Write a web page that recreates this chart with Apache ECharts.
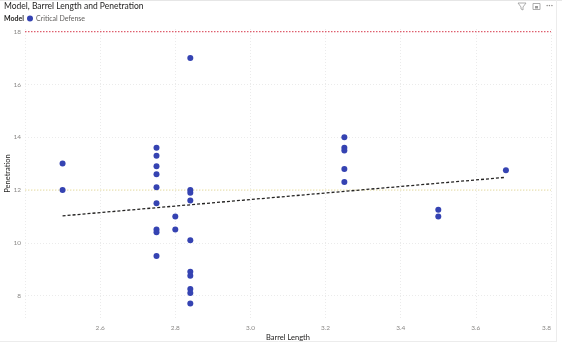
<!DOCTYPE html>
<html>
<head>
<meta charset="utf-8">
<script src="https://cdn.jsdelivr.net/npm/echarts@6/dist/echarts.min.js"></script>
<style>
html,body{margin:0;padding:0;background:#fff;}
#chart{width:562px;height:346px;}
</style>
</head>
<body>
<div id="chart"></div>
<script>
const seriesName = 'Critical Defense';
const barrelLength = [2.5, 2.5,
  2.75, 2.75, 2.75, 2.75, 2.75, 2.75, 2.75, 2.75, 2.75,
  2.8, 2.8,
  2.84, 2.84, 2.84, 2.84, 2.84, 2.84, 2.84, 2.84, 2.84, 2.84,
  3.25, 3.25, 3.25, 3.25, 3.25,
  3.5, 3.5,
  3.68];
const penetration = [13.0, 12.0,
  13.6, 13.3, 12.9, 12.6, 12.1, 11.5, 10.5, 10.4, 9.5,
  11.0, 10.5,
  17.0, 12.0, 11.9, 11.6, 10.1, 8.9, 8.75, 8.25, 8.1, 7.7,
  14.0, 13.6, 13.5, 12.8, 12.3,
  11.25, 11.0,
  12.75];
const trendX = [2.5, 3.68];
const trendY = [11.02, 12.48];
const avgLine = 12.0;
const maxLine = 18.0;
const xRange = [2.4, 3.8];
const xTicks = [2.6, 2.8, 3.0, 3.2, 3.4, 3.6, 3.8];
const yTicks = [8, 10, 12, 14, 16, 18];

const FONT = 'Lato';
const tickLabel = {show: true, position: 'start', formatter: p => String(p.value), fontSize: 6.5, color: '#8a8886', distance: 4, fontFamily: FONT};
const chart = echarts.init(document.getElementById('chart'));
chart.setOption({
  animation: false,
  textStyle: {fontFamily: FONT},
  title: {
    text: 'Model, Barrel Length and Penetration',
    left: 4, top: 1.5, padding: 0,
    textStyle: {fontSize: 8.5, fontWeight: 'normal', color: '#252423', fontFamily: FONT}
  },
  legend: {
    left: 27, top: 15, padding: 0, itemWidth: 6, itemHeight: 6, itemGap: 4,
    icon: 'circle',
    data: [seriesName],
    textStyle: {fontSize: 7, color: '#605E5C', fontFamily: FONT, padding: [0, 0, 0, -2]}
  },
  grid: {left: 25, right: 11, top: 29, bottom: 28, containLabel: false, outerBoundsMode: 'none'},
  xAxis: {
    type: 'value', min: xRange[0], max: xRange[1], interval: 0.2,
    name: 'Barrel Length', nameLocation: 'middle', nameGap: 15, nameMoveOverlap: false,
    nameTextStyle: {fontSize: 7.5, color: '#252423', fontFamily: FONT, verticalAlign: 'top', lineHeight: 9},
    axisLine: {show: false}, axisTick: {show: false},
    axisLabel: {fontSize: 6.5, color: '#8a8886', margin: 6, alignMaxLabel: 'right',
      formatter: v => xTicks.some(t => Math.abs(t - v) < 1e-6) ? v.toFixed(1) : ''},
    splitLine: {show: true, lineStyle: {color: '#ebebeb', type: [1, 2], width: 1}}
  },
  yAxis: {
    type: 'value', min: 7.15, max: 18.1,
    name: 'Penetration', nameLocation: 'middle', nameGap: 13, nameRotate: 90, nameMoveOverlap: false,
    nameTextStyle: {fontSize: 7.5, color: '#252423', fontFamily: FONT},
    axisLine: {show: false}, axisTick: {show: false},
    axisLabel: {show: false},
    splitLine: {show: false}
  },
  series: [
    {
      name: 'grid-y', type: 'line', silent: true, data: [], z: 1,
      markLine: {
        symbol: 'none', silent: true, z: 1,
        label: tickLabel,
        lineStyle: {color: '#ebebeb', type: [1, 2], width: 1},
        data: yTicks.map(t => ({yAxis: t}))
      }
    },
    {
      name: 'max-line', type: 'line', silent: true, z: 2, symbol: 'none',
      color: '#DE5F6E',
      lineStyle: {color: '#DE5F6E', type: [1.5, 1.5], width: 1.2},
      data: xRange.map(x => [x, maxLine])
    },
    {
      name: 'avg-line', type: 'line', silent: true, z: 2, symbol: 'none',
      color: '#EEE3A6',
      lineStyle: {color: '#EEE3A6', type: [1.5, 1.5], width: 1.2},
      data: xRange.map(x => [x, avgLine])
    },
    {
      name: seriesName, type: 'scatter', symbolSize: 6, z: 10,
      itemStyle: {color: '#3543B2', opacity: 1},
      data: barrelLength.map((x, i) => [x, penetration[i]])
    },
    {
      name: 'trend', type: 'line', symbol: 'none', silent: true, z: 5,
      lineStyle: {color: '#252423', type: [3, 2], width: 1.3},
      data: trendX.map((x, i) => [x, trendY[i]])
    }
  ],
  graphic: [
    {type: 'line', shape: {x1: 0, y1: 0.5, x2: 562, y2: 0.5}, style: {stroke: '#e6e6e6', lineWidth: 1}},
    {type: 'line', shape: {x1: 556.5, y1: 0, x2: 556.5, y2: 341}, style: {stroke: '#ececec', lineWidth: 1}},
    {type: 'line', shape: {x1: 0, y1: 341.5, x2: 557, y2: 341.5}, style: {stroke: '#ececec', lineWidth: 1}},
    {type: 'text', left: 4, top: 15, style: {text: 'Model', fontSize: 7, fontWeight: 'bold', fill: '#252423', fontFamily: FONT}},
    {type: 'polygon', shape: {points: [[518, 3], [526, 3], [523, 7], [523, 10], [521, 9], [521, 7]]}, style: {fill: 'none', stroke: '#9a9a9a', lineWidth: 0.8}},
    {type: 'rect', shape: {x: 533, y: 3.5, width: 7, height: 6}, style: {fill: 'none', stroke: '#9a9a9a', lineWidth: 0.8}},
    {type: 'rect', shape: {x: 535, y: 6, width: 3, height: 2.5}, style: {fill: '#9a9a9a'}},
    {type: 'text', left: 546, top: 1, style: {text: '···', fontSize: 9, fill: '#8a8886', fontFamily: FONT}}
  ]
});
</script>
</body>
</html>
